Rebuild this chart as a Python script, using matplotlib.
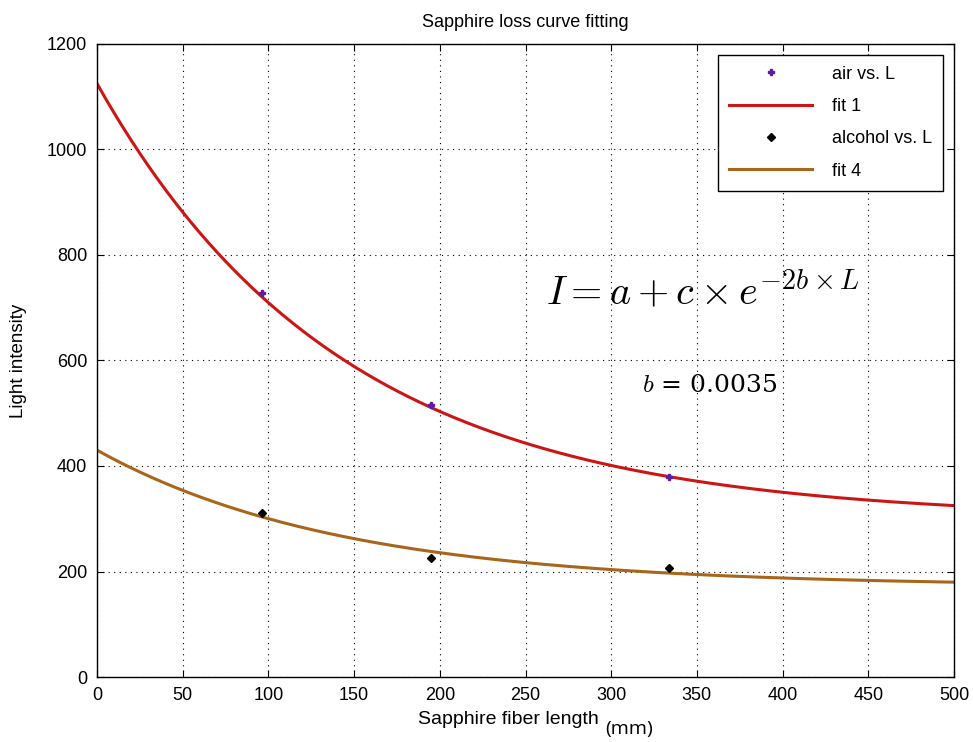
import numpy as np
import matplotlib.pyplot as plt

# measured points
length = [96, 195, 334]
air = [728, 515, 380]
alcohol = [310, 226, 207]

# fit parameters  I = a + c*exp(-2*b*L)
b_fit = 0.0035
a_air, c_air = 300, 825
a_alc, c_alc = 172, 258

xticks = list(range(0, 501, 50))
yticks = list(range(0, 1201, 200))

plt.rcParams['font.family'] = ['Liberation Sans', 'DejaVu Sans']
plt.rcParams['mathtext.fontset'] = 'cm'

fig = plt.figure(figsize=(9.73, 7.42), dpi=100)
ax = fig.add_axes([97/973, 65/742, 857/973, 633/742])

L = np.linspace(0, 500, 400)
ax.plot(length, air, 'P', color='#5b1f9e', ms=5, label='air vs. L', zorder=4)
ax.plot(L, a_air + c_air*np.exp(-2*b_fit*L), color='#cc1515', lw=2.2, label='fit 1')
ax.plot(length, alcohol, 'D', color='black', ms=4, label='alcohol vs. L', zorder=4)
ax.plot(L, a_alc + c_alc*np.exp(-2*b_fit*L), color='#a8661a', lw=2.2, label='fit 4')

ax.set_xlim(0, 500)
ax.set_ylim(0, 1200)
ax.set_xticks(xticks)
ax.set_yticks(yticks)
ax.grid(True, color='black', linestyle=(0, (1, 4)), lw=0.8)
ax.tick_params(direction='in', top=True, right=True, labelsize=13, length=5, pad=7)
for s in ax.spines.values():
    s.set_linewidth(1.0)

ax.set_title('Sapphire loss curve fitting', fontsize=13, pad=12)
ax.set_ylabel('Light intensity', fontsize=13.5, labelpad=14)
ax.text(0.375, -0.075, 'Sapphire fiber length', transform=ax.transAxes, fontsize=14)
ax.text(0.593, -0.09, '(mm)', transform=ax.transAxes, fontsize=14, family=['Open Sans', 'DejaVu Sans'])

ax.text(262, 705, r'$I = a + c\times e^{-2b\times L}$', fontsize=29)
ax.text(318, 540, r'$b$ = 0.0035', fontsize=18, family=['DejaVu Serif'])

leg = ax.legend(loc='upper right', fontsize=13, fancybox=False, edgecolor='black',
                framealpha=1, borderaxespad=0.6, handlelength=4.6, handletextpad=1.1,
                labelspacing=0.85, borderpad=0.6)
leg.get_frame().set_linewidth(1.0)

fig.savefig('out.png', dpi=100)
